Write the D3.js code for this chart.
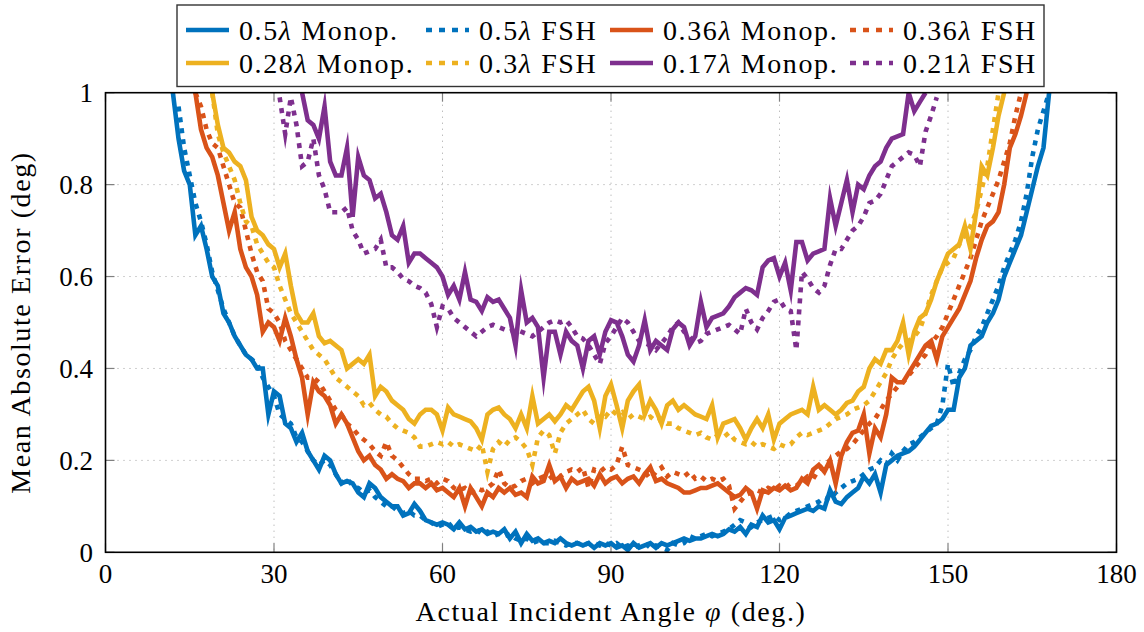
<!DOCTYPE html>
<html><head><meta charset="utf-8">
<script src="https://cdn.jsdelivr.net/npm/d3@7"></script>
<style>
html,body{margin:0;padding:0;background:#fff;}
svg text{font-family:"Liberation Serif","Times New Roman",serif;fill:#000;}
</style></head>
<body><svg id="chart" width="1144" height="632"></svg>
<script>
// ---------- data (angle in deg, value = mean absolute error in deg) ----------
const xTicks = [0, 30, 60, 90, 120, 150, 180];
const yTicks = [0, 0.2, 0.4, 0.6, 0.8, 1];
const yTickLabels = ["0", "0.2", "0.4", "0.6", "0.8", "1"];
const seriesNames = ["0.5λ Monop.", "0.5λ FSH", "0.36λ Monop.", "0.36λ FSH", "0.28λ Monop.", "0.3λ FSH", "0.17λ Monop.", "0.21λ FSH"];

const monop05Start = 12;
const monop05 = [1.0,0.90,0.83,0.80,0.69,0.71,0.66,0.60,0.58,0.52,0.50,0.47,0.45,0.43,0.42,0.40,0.40,0.30,0.35,0.34,
0.28,0.27,0.24,0.26,0.22,0.20,0.18,0.21,0.20,0.17,0.15,0.155,0.15,0.13,0.12,0.15,0.14,0.12,0.11,0.10,
0.10,0.08,0.085,0.105,0.09,0.07,0.065,0.06,0.065,0.06,0.05,0.065,0.05,0.055,0.045,0.05,0.04,0.045,0.04,0.05,
0.03,0.045,0.02,0.04,0.025,0.03,0.02,0.025,0.02,0.03,0.02,0.015,0.02,0.015,0.02,0.01,0.02,0.015,0.02,0.01,
0.015,0.005,0.02,0.01,0.015,0.02,0.01,0.02,0.015,0.02,0.025,0.03,0.025,0.03,0.03,0.035,0.04,0.035,0.04,0.05,
0.045,0.055,0.04,0.06,0.055,0.08,0.065,0.07,0.05,0.075,0.08,0.085,0.09,0.095,0.09,0.10,0.095,0.135,0.11,0.105,
0.12,0.13,0.14,0.165,0.15,0.17,0.13,0.19,0.20,0.21,0.215,0.22,0.23,0.245,0.26,0.275,0.28,0.29,0.31,0.31,
0.38,0.40,0.45,0.46,0.47,0.50,0.52,0.55,0.60,0.63,0.66,0.69,0.74,0.79,0.84,0.88,1.0];

const fsh05Start = 13;
const fsh05 = [0.97,0.88,0.82,0.76,0.72,0.67,0.61,0.57,0.53,0.50,0.47,0.45,0.43,0.42,0.41,0.38,0.36,0.34,0.30,0.29,
0.28,0.25,0.24,0.22,0.20,0.19,0.20,0.19,0.17,0.15,0.16,0.145,0.14,0.13,0.135,0.12,0.11,0.10,0.10,0.09,
0.085,0.09,0.08,0.08,0.07,0.065,0.055,0.06,0.065,0.05,0.055,0.05,0.045,0.05,0.04,0.045,0.035,0.04,0.035,0.04,
0.03,0.025,0.03,0.02,0.025,0.02,0.02,0.025,0.02,0.015,0.02,0.02,0.015,0.02,0.02,0.015,0.02,0.015,0.02,0.01,
0.015,0.01,0.015,0.02,0.01,0.015,0.01,0.005,0.02,0.015,0.02,0.035,0.03,0.035,0.04,0.035,0.04,0.045,0.05,0.06,
0.07,0.065,0.055,0.065,0.07,0.075,0.08,0.07,0.075,0.085,0.09,0.095,0.10,0.105,0.11,0.12,0.115,0.13,0.14,0.15,
0.155,0.16,0.17,0.18,0.185,0.20,0.19,0.215,0.20,0.22,0.235,0.24,0.25,0.26,0.27,0.28,0.32,0.41,0.36,0.39,
0.42,0.44,0.47,0.49,0.52,0.55,0.58,0.62,0.65,0.68,0.72,0.78,0.86,0.92,0.96,1.0];

const monop036Start = 16;
const monop036 = [1.0,0.92,0.88,0.86,0.82,0.76,0.70,0.74,0.66,0.62,0.60,0.56,0.48,0.50,0.49,0.46,0.51,0.47,0.42,0.38,
0.30,0.37,0.35,0.34,0.32,0.28,0.30,0.28,0.25,0.22,0.20,0.21,0.19,0.18,0.16,0.17,0.16,0.155,0.14,0.15,
0.15,0.14,0.15,0.135,0.14,0.13,0.12,0.14,0.10,0.14,0.12,0.10,0.13,0.12,0.14,0.13,0.14,0.125,0.13,0.12,
0.165,0.15,0.155,0.19,0.155,0.165,0.14,0.16,0.15,0.155,0.16,0.145,0.17,0.15,0.16,0.165,0.15,0.16,0.165,0.15,
0.17,0.185,0.155,0.16,0.15,0.145,0.14,0.13,0.13,0.135,0.14,0.14,0.145,0.15,0.14,0.13,0.12,0.125,0.14,0.13,
0.095,0.135,0.13,0.14,0.135,0.145,0.135,0.14,0.16,0.15,0.18,0.19,0.175,0.20,0.15,0.21,0.24,0.26,0.265,0.30,
0.215,0.27,0.25,0.30,0.38,0.37,0.37,0.39,0.41,0.43,0.45,0.46,0.42,0.47,0.49,0.51,0.53,0.56,0.59,0.64,
0.68,0.71,0.72,0.74,0.80,0.88,0.91,0.95,1.0];

const fsh036Start = 16;
const fsh036 = [1.0,0.97,0.92,0.89,0.88,0.84,0.80,0.76,0.75,0.70,0.65,0.61,0.59,0.53,0.52,0.50,0.46,0.44,0.42,0.40,
0.38,0.38,0.37,0.35,0.33,0.31,0.30,0.28,0.27,0.255,0.245,0.235,0.22,0.21,0.24,0.21,0.20,0.185,0.17,0.16,
0.16,0.155,0.16,0.15,0.16,0.155,0.14,0.135,0.14,0.13,0.14,0.135,0.14,0.15,0.18,0.15,0.14,0.145,0.155,0.16,
0.15,0.16,0.165,0.16,0.17,0.165,0.175,0.18,0.175,0.185,0.14,0.18,0.175,0.185,0.18,0.19,0.23,0.19,0.185,0.18,
0.175,0.16,0.175,0.185,0.165,0.175,0.17,0.165,0.175,0.16,0.165,0.155,0.16,0.155,0.16,0.145,0.095,0.11,0.125,0.13,
0.135,0.13,0.14,0.135,0.145,0.14,0.15,0.145,0.155,0.165,0.16,0.18,0.19,0.20,0.21,0.22,0.225,0.235,0.25,0.265,
0.28,0.29,0.31,0.33,0.345,0.36,0.37,0.385,0.40,0.415,0.43,0.455,0.47,0.49,0.52,0.55,0.58,0.61,0.64,0.68,
0.72,0.75,0.78,0.81,0.85,0.89,0.95,1.0];

const monop028Start = 19;
const monop028 = [1.0,0.93,0.88,0.87,0.85,0.84,0.81,0.73,0.70,0.69,0.67,0.66,0.62,0.65,0.58,0.52,0.50,0.50,0.52,0.47,
0.455,0.46,0.45,0.44,0.40,0.41,0.42,0.41,0.43,0.34,0.36,0.35,0.33,0.32,0.31,0.29,0.28,0.30,0.31,0.31,
0.30,0.265,0.315,0.30,0.295,0.29,0.285,0.27,0.245,0.30,0.31,0.315,0.30,0.29,0.27,0.30,0.27,0.34,0.28,0.29,
0.30,0.285,0.30,0.32,0.31,0.33,0.35,0.36,0.33,0.27,0.34,0.365,0.32,0.27,0.33,0.35,0.365,0.30,0.33,0.31,
0.28,0.32,0.33,0.31,0.32,0.31,0.30,0.295,0.29,0.32,0.25,0.28,0.285,0.29,0.27,0.245,0.27,0.29,0.27,0.30,
0.245,0.28,0.29,0.30,0.305,0.31,0.30,0.36,0.31,0.32,0.31,0.30,0.31,0.325,0.33,0.35,0.36,0.40,0.42,0.41,
0.44,0.44,0.46,0.50,0.43,0.48,0.51,0.52,0.55,0.59,0.62,0.65,0.66,0.67,0.71,0.66,0.74,0.84,0.82,0.88,
0.95,1.0];

const fsh03Start = 19;
const fsh03 = [1.0,0.91,0.87,0.84,0.81,0.76,0.72,0.71,0.67,0.65,0.63,0.62,0.58,0.55,0.52,0.50,0.48,0.46,0.44,0.43,
0.42,0.40,0.38,0.37,0.36,0.35,0.34,0.32,0.325,0.31,0.30,0.295,0.28,0.27,0.265,0.26,0.25,0.23,0.23,0.235,
0.24,0.235,0.24,0.23,0.235,0.23,0.225,0.22,0.235,0.175,0.225,0.24,0.23,0.245,0.25,0.24,0.225,0.19,0.25,0.265,
0.255,0.215,0.26,0.28,0.29,0.30,0.31,0.29,0.28,0.30,0.295,0.31,0.30,0.305,0.29,0.30,0.295,0.29,0.295,0.285,
0.29,0.28,0.28,0.27,0.265,0.26,0.255,0.26,0.25,0.245,0.255,0.25,0.26,0.245,0.24,0.235,0.24,0.23,0.235,0.23,
0.225,0.235,0.23,0.235,0.25,0.26,0.255,0.26,0.265,0.27,0.28,0.29,0.295,0.30,0.31,0.315,0.32,0.33,0.35,0.37,
0.39,0.42,0.44,0.455,0.46,0.47,0.485,0.52,0.56,0.59,0.62,0.63,0.64,0.67,0.69,0.71,0.74,0.79,0.84,0.92,
1.0];

const monop017Start = 35;
const monop017 = [1.0,0.94,0.93,0.90,0.97,0.85,0.82,0.82,0.88,0.73,0.86,0.82,0.81,0.77,0.78,0.74,0.69,0.68,0.71,0.63,
0.65,0.65,0.64,0.63,0.62,0.60,0.56,0.58,0.55,0.61,0.55,0.545,0.525,0.555,0.545,0.55,0.53,0.51,0.45,0.57,
0.50,0.51,0.49,0.38,0.48,0.48,0.43,0.48,0.46,0.45,0.40,0.46,0.47,0.43,0.48,0.505,0.50,0.47,0.43,0.415,
0.45,0.505,0.44,0.46,0.45,0.44,0.485,0.50,0.49,0.45,0.47,0.545,0.49,0.51,0.515,0.52,0.535,0.555,0.565,0.575,
0.57,0.56,0.62,0.635,0.64,0.60,0.63,0.57,0.675,0.675,0.635,0.65,0.655,0.66,0.77,0.71,0.76,0.81,0.74,0.80,
0.79,0.82,0.84,0.85,0.88,0.90,0.905,0.91,1.0,0.96,0.98,1.0];

const fsh021Start = 31;
const fsh021 = [0.99,0.91,0.99,0.93,0.84,0.85,0.90,0.82,0.79,0.74,0.74,0.74,0.75,0.70,0.68,0.65,0.655,0.66,0.68,0.62,
0.62,0.61,0.595,0.59,0.58,0.575,0.565,0.54,0.49,0.535,0.53,0.51,0.50,0.49,0.48,0.47,0.48,0.49,0.495,0.49,
0.485,0.48,0.485,0.48,0.475,0.47,0.48,0.49,0.50,0.505,0.50,0.505,0.49,0.47,0.465,0.45,0.43,0.41,0.455,0.47,
0.49,0.51,0.50,0.48,0.46,0.455,0.45,0.44,0.455,0.47,0.49,0.50,0.48,0.47,0.455,0.46,0.475,0.48,0.485,0.49,
0.495,0.485,0.475,0.53,0.50,0.485,0.51,0.525,0.545,0.55,0.53,0.525,0.44,0.61,0.595,0.575,0.565,0.58,0.625,0.66,
0.66,0.68,0.70,0.71,0.73,0.76,0.765,0.78,0.81,0.84,0.85,0.86,0.87,0.865,0.84,0.915,0.95,0.99];

const seriesStarts = [monop05Start, fsh05Start, monop036Start, fsh036Start, monop028Start, fsh03Start, monop017Start, fsh021Start];
const seriesValues = [monop05, fsh05, monop036, fsh036, monop028, fsh03, monop017, fsh021];
const seriesColors = ["#0072BD", "#0072BD", "#D95319", "#D95319", "#EDB120", "#EDB120", "#7E2F8E", "#7E2F8E"];
const seriesDotted = [false, true, false, true, false, true, false, true];

// ---------- layout ----------
const svg = d3.select("#chart");
const L = 105.5, R = 1116.5, T = 92.7, B = 552.3;
const x = d3.scaleLinear().domain([0, 180]).range([L, R]);
const y = d3.scaleLinear().domain([0, 1]).range([B, T]);

svg.append("defs").append("clipPath").attr("id", "clip")
  .append("rect").attr("x", L).attr("y", T).attr("width", R - L).attr("height", B - T);

// grid
const grid = svg.append("g");
xTicks.slice(1, -1).forEach(t => grid.append("line")
  .attr("x1", x(t)).attr("x2", x(t)).attr("y1", T).attr("y2", B)
  .attr("stroke", "#a0a0a0").attr("stroke-width", 1).attr("stroke-dasharray", "1,5"));
yTicks.slice(1, -1).forEach(t => grid.append("line")
  .attr("y1", y(t)).attr("y2", y(t)).attr("x1", L).attr("x2", R)
  .attr("stroke", "#a0a0a0").attr("stroke-width", 1).attr("stroke-dasharray", "1,5"));

// inner ticks (all four sides)
const tl = 9;
const tg = svg.append("g").attr("stroke", "#808080").attr("stroke-width", 1.2);
xTicks.forEach(t => {
  tg.append("line").attr("x1", x(t)).attr("x2", x(t)).attr("y1", B).attr("y2", B - tl);
  tg.append("line").attr("x1", x(t)).attr("x2", x(t)).attr("y1", T).attr("y2", T + tl);
});
yTicks.forEach(t => {
  tg.append("line").attr("y1", y(t)).attr("y2", y(t)).attr("x1", L).attr("x2", L + tl);
  tg.append("line").attr("y1", y(t)).attr("y2", y(t)).attr("x1", R).attr("x2", R - tl);
});

// series
const line = d3.line().x(d => x(d[0])).y(d => y(d[1]));
const plot = svg.append("g").attr("clip-path", "url(#clip)");
seriesValues.forEach((vals, k) => {
  const pts = vals.map((v, i) => [seriesStarts[k] + i, v]);
  plot.append("path").datum(pts).attr("d", line)
    .attr("fill", "none").attr("stroke", seriesColors[k])
    .attr("stroke-width", 4.6)
    .attr("stroke-linejoin", "miter").attr("stroke-miterlimit", 10)
    .attr("stroke-dasharray", seriesDotted[k] ? "5,6" : null);
});

// frame
svg.append("rect").attr("x", L).attr("y", T).attr("width", R - L).attr("height", B - T)
  .attr("fill", "none").attr("stroke", "#000").attr("stroke-width", 1.6);

// tick labels
const fs = 27;
xTicks.forEach(t => svg.append("text").attr("x", x(t)).attr("y", 583)
  .attr("text-anchor", "middle").attr("font-size", fs).text(t));
yTicks.forEach((t, i) => svg.append("text").attr("x", 93).attr("y", y(t) + 9.5)
  .attr("text-anchor", "end").attr("font-size", fs).text(yTickLabels[i]));

// axis titles
const ts = 28, ls = 1.6;
const xt = svg.append("text").attr("x", (L + R) / 2).attr("y", 621)
  .attr("text-anchor", "middle").attr("font-size", ts).attr("letter-spacing", ls);
xt.append("tspan").text("Actual Incident Angle ");
xt.append("tspan").attr("font-style", "italic").text("φ");
xt.append("tspan").text(" (deg.)");
svg.append("text").attr("transform", "translate(30," + ((T + B) / 2) + ") rotate(-90)")
  .attr("text-anchor", "middle").attr("font-size", ts).attr("letter-spacing", ls)
  .text("Mean Absolute Error (deg)");

// legend
const lg = svg.append("g");
lg.append("rect").attr("x", 177).attr("y", 5).attr("width", 867).attr("height", 81.5)
  .attr("fill", "#fff").attr("stroke", "#333").attr("stroke-width", 1.4);
const colX = [186, 426, 610, 850];
const rowY = [30, 63];
seriesNames.forEach((name, k) => {
  const cx = colX[k % 4], cy = rowY[Math.floor(k / 4)];
  lg.append("line").attr("x1", cx).attr("x2", cx + 43).attr("y1", cy).attr("y2", cy)
    .attr("stroke", seriesColors[k]).attr("stroke-width", 4.6)
    .attr("stroke-dasharray", seriesDotted[k] ? "6,7" : null);
  const parts = name.split("λ");
  const t = lg.append("text").attr("x", cx + 53).attr("y", cy + 9.5)
    .attr("font-size", ts).attr("letter-spacing", ls);
  t.append("tspan").text(parts[0]);
  t.append("tspan").attr("font-style", "italic").text("λ");
  t.append("tspan").text(parts[1]);
});
</script>
</body></html>
